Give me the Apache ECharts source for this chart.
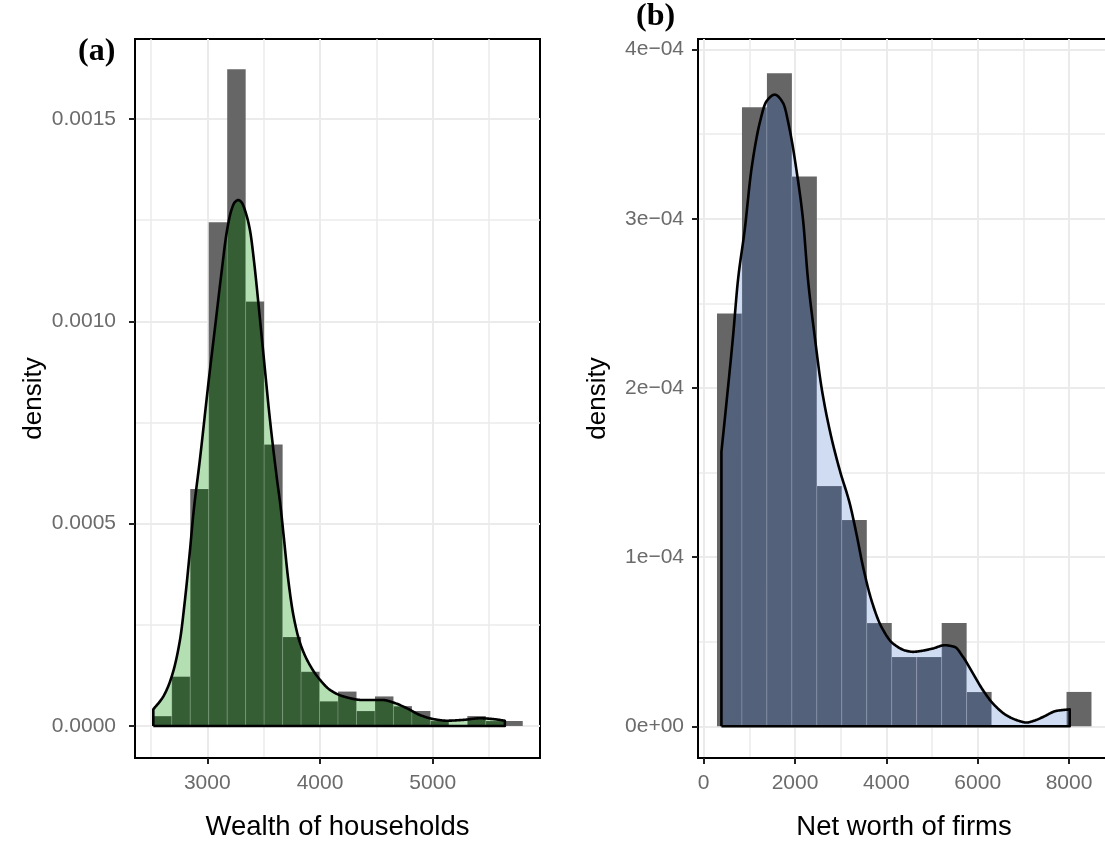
<!DOCTYPE html>
<html>
<head>
<meta charset="utf-8">
<script src="https://cdn.jsdelivr.net/npm/echarts@6/dist/echarts.min.js"></script>
<style>
  html, body { margin: 0; padding: 0; background: #ffffff; }
  #chart { width: 1105px; height: 841px; }
</style>
</head>
<body>
<div id="chart"></div>
<script>
// ---------- (a) Wealth of households ----------
const wealthBinStart = 2521;
const wealthBinWidth = 163.9;
const wealthBinDensity = [
  2.44e-5, 1.22e-4, 5.86e-4, 1.245e-3, 1.623e-3, 1.049e-3, 6.96e-4, 2.20e-4,
  1.34e-4, 6.1e-5, 8.5e-5, 3.7e-5, 7.3e-5, 4.9e-5, 3.7e-5, 1.22e-5, 0,
  2.44e-5, 1.22e-5, 1.22e-5
];
const wealthDensityCurve = [
  [2521, 4.1e-5], [2610, 7.3e-5], [2684, 1.22e-4], [2758, 2.13e-4],
  [2802, 3.12e-4], [2847, 4.36e-4], [2877, 5.26e-4], [2935, 6.60e-4],
  [3009, 8.45e-4], [3077, 1.005e-3], [3128, 1.125e-3], [3172, 1.220e-3],
  [3216, 1.277e-3], [3245, 1.295e-3], [3275, 1.300e-3], [3305, 1.294e-3],
  [3335, 1.274e-3], [3379, 1.225e-3], [3414, 1.150e-3], [3453, 1.046e-3],
  [3497, 9.22e-4], [3556, 7.57e-4], [3615, 6.17e-4], [3651, 5.40e-4],
  [3675, 4.77e-4], [3719, 3.60e-4], [3763, 2.75e-4], [3823, 2.05e-4],
  [3911, 1.50e-4], [4000, 1.14e-4], [4089, 8.9e-5], [4207, 7.3e-5],
  [4384, 6.4e-5], [4562, 6.4e-5], [4650, 5.8e-5], [4769, 4.4e-5],
  [4887, 2.7e-5], [5006, 1.7e-5], [5124, 1.3e-5], [5272, 1.5e-5],
  [5420, 1.9e-5], [5538, 1.7e-5], [5640, 1.3e-5]
];
const wealthXTicks = [3000, 4000, 5000];
const wealthXTickLabels = ['3000', '4000', '5000'];
const wealthXMinor = [2500, 3500, 4500, 5500];
const wealthYTicks = [0, 0.0005, 0.0010, 0.0015];
const wealthYTickLabels = ['0.0000', '0.0005', '0.0010', '0.0015'];
const wealthYMinor = [0.00025, 0.00075, 0.00125];

// ---------- (b) Net worth of firms ----------
const firmBinStart = 291;
const firmBinWidth = 546.7;
const firmBinDensity = [
  2.44e-4, 3.66e-4, 3.86e-4, 3.25e-4, 1.42e-4, 1.22e-4, 6.1e-5, 4.1e-5,
  4.1e-5, 6.1e-5, 2.03e-5, 0, 0, 0, 2.03e-5
];
const firmDensityCurve = [
  [388, 1.623e-4], [497, 1.909e-4], [642, 2.304e-4], [751, 2.639e-4],
  [898, 2.935e-4], [1044, 3.29e-4], [1226, 3.566e-4], [1373, 3.694e-4],
  [1555, 3.734e-4], [1737, 3.685e-4], [1883, 3.527e-4], [2030, 3.29e-4],
  [2175, 2.994e-4], [2284, 2.639e-4], [2431, 2.304e-4], [2577, 2.008e-4],
  [2759, 1.751e-4], [2978, 1.515e-4], [3197, 1.318e-4], [3343, 1.14e-4],
  [3489, 9.43e-5], [3672, 7.46e-5], [3891, 5.88e-5], [4146, 4.89e-5],
  [4438, 4.46e-5], [4584, 4.40e-5], [4730, 4.44e-5], [5022, 4.60e-5],
  [5277, 4.79e-5], [5496, 4.69e-5], [5678, 4.10e-5], [5897, 3.12e-5],
  [6116, 2.13e-5], [6335, 1.34e-5], [6628, 6.5e-6], [6900, 3.2e-6],
  [7067, 2.2e-6], [7250, 3.4e-6], [7431, 5.5e-6], [7723, 9.1e-6],
  [8015, 1.0e-5]
];
const firmXTicks = [0, 2000, 4000, 6000, 8000];
const firmXTickLabels = ['0', '2000', '4000', '6000', '8000'];
const firmXMinor = [1000, 3000, 5000, 7000];
const firmYTicks = [0, 1e-4, 2e-4, 3e-4, 4e-4];
const firmYTickLabels = ['0e+00', '1e\u221204', '2e\u221204', '3e\u221204', '4e\u221204'];
const firmYMinor = [5e-5, 1.5e-4, 2.5e-4, 3.5e-4];

// ---------- styling ----------
const GRID_COLOR = '#ebebeb';
const TICK_TEXT = '#6b6b6b';
const SANS = 'Liberation Sans, Arial, Helvetica, sans-serif';
const SERIF = 'Liberation Serif, Times New Roman, serif';
const BAR_GREY = '#666666';

// Monotone cubic (Fritsch-Carlson) curve through the density estimates,
// so outline, fill and overlap all follow the same smooth shape.
function makeSmooth(curve) {
  const n = curve.length;
  const xs = curve.map(p => p[0]), ys = curve.map(p => p[1]);
  const d = [], m = new Array(n);
  for (let i = 0; i < n - 1; i++) d.push((ys[i + 1] - ys[i]) / (xs[i + 1] - xs[i]));
  m[0] = d[0]; m[n - 1] = d[n - 2];
  for (let i = 1; i < n - 1; i++) {
    if (d[i - 1] * d[i] <= 0) m[i] = 0;
    else {
      const w1 = 2 * (xs[i + 1] - xs[i]) + (xs[i] - xs[i - 1]);
      const w2 = (xs[i + 1] - xs[i]) + 2 * (xs[i] - xs[i - 1]);
      m[i] = (w1 + w2) / (w1 / d[i - 1] + w2 / d[i]);
    }
  }
  const f = x => {
    if (x <= xs[0]) return ys[0];
    if (x >= xs[n - 1]) return ys[n - 1];
    let i = 0;
    while (x > xs[i + 1]) i++;
    const h = xs[i + 1] - xs[i], t = (x - xs[i]) / h;
    const t2 = t * t, t3 = t2 * t;
    return (2 * t3 - 3 * t2 + 1) * ys[i] + (t3 - 2 * t2 + t) * h * m[i]
      + (-2 * t3 + 3 * t2) * ys[i + 1] + (t3 - t2) * h * m[i + 1];
  };
  f.lo = xs[0]; f.hi = xs[n - 1];
  return f;
}

function tracePoints(f, lo, hi, steps, cap) {
  const pts = [];
  for (let k = 0; k <= steps; k++) {
    const x = lo + (hi - lo) * k / steps;
    pts.push([x, cap === undefined ? f(x) : Math.min(cap, f(x))]);
  }
  return pts;
}

function binItems(start, width, dens) {
  return dens.map((d, i) => [start + i * width, start + (i + 1) * width, d]);
}

function labelFor(ticks, labels) {
  return v => {
    const i = ticks.findIndex(t => Math.abs(t - v) <= Math.abs(t) * 1e-9 + 1e-12);
    return i >= 0 ? labels[i] : '';
  };
}

function mainXAxis(gridIndex, min, max, ticks, labels, name) {
  return {
    gridIndex, type: 'value', min, max, position: 'bottom',
    axisLine: { show: true, onZero: false, lineStyle: { color: '#000', width: 2 } },
    axisTick: { show: true, customValues: ticks, length: 6, lineStyle: { color: '#222', width: 2 } },
    axisLabel: { customValues: ticks, formatter: labelFor(ticks, labels), margin: 15,
      color: TICK_TEXT, fontSize: 21, fontFamily: SANS },
    splitLine: { show: true, lineStyle: { color: GRID_COLOR, width: 2 } },
    name, nameLocation: 'middle', nameGap: 55, nameMoveOverlap: false,
    nameTextStyle: { color: '#000', fontSize: 27.5, fontFamily: SANS }
  };
}
function minorXAxis(gridIndex, min, max, ticks) {
  return {
    gridIndex, type: 'value', min, max, position: 'bottom',
    axisLine: { show: false }, axisLabel: { show: false },
    axisTick: { show: false, customValues: ticks },
    splitLine: { show: true, lineStyle: { color: GRID_COLOR, width: 1.5 } }
  };
}
function mainYAxis(gridIndex, min, max, ticks, labels, nameGap, labelMargin) {
  return {
    gridIndex, type: 'value', min, max, position: 'left',
    axisLine: { show: true, onZero: false, lineStyle: { color: '#000', width: 2 } },
    axisTick: { show: true, customValues: ticks, length: 6, lineStyle: { color: '#222', width: 2 } },
    axisLabel: { customValues: ticks, formatter: labelFor(ticks, labels), margin: labelMargin,
      color: TICK_TEXT, fontSize: 21, fontFamily: SANS },
    splitLine: { show: true, lineStyle: { color: GRID_COLOR, width: 2 } },
    name: 'density', nameLocation: 'middle', nameGap, nameMoveOverlap: false,
    nameTextStyle: { color: '#000', fontSize: 26, fontFamily: SANS }
  };
}
function minorYAxis(gridIndex, min, max, ticks) {
  return {
    gridIndex, type: 'value', min, max, position: 'left',
    axisLine: { show: false }, axisLabel: { show: false },
    axisTick: { show: false, customValues: ticks },
    splitLine: { show: true, lineStyle: { color: GRID_COLOR, width: 1.5 } }
  };
}

// histogram bars
function barSeries(xi, yi, items, color) {
  return {
    type: 'custom', xAxisIndex: xi, yAxisIndex: yi, silent: true, animation: false,
    data: items,
    renderItem(params, api) {
      if (api.value(2) <= 0) return null;
      const p0 = api.coord([api.value(0), 0]);
      const p1 = api.coord([api.value(1), api.value(2)]);
      return { type: 'rect',
        shape: { x: p0[0], y: p1[1], width: p1[0] - p0[0], height: p0[1] - p1[1] },
        style: { fill: color } };
    }
  };
}

// density area (filled polygon down to zero)
function densityFillSeries(xi, yi, f, color) {
  return {
    type: 'custom', xAxisIndex: xi, yAxisIndex: yi, silent: true, animation: false,
    data: [[f.lo, 0]],
    renderItem(params, api) {
      const pts = [api.coord([f.lo, 0])];
      tracePoints(f, f.lo, f.hi, 600).forEach(p => pts.push(api.coord(p)));
      pts.push(api.coord([f.hi, 0]));
      return { type: 'polygon', shape: { points: pts }, style: { fill: color } };
    }
  };
}

// part of each bar lying under the density curve
function overlapSeries(xi, yi, items, f, color) {
  return {
    type: 'custom', xAxisIndex: xi, yAxisIndex: yi, silent: true, animation: false,
    data: items,
    renderItem(params, api) {
      const a = api.value(0), b = api.value(1), h = api.value(2);
      const lo = Math.max(a, f.lo), hi = Math.min(b, f.hi);
      if (hi <= lo || h <= 0) return null;
      const pts = [api.coord([lo, 0])];
      tracePoints(f, lo, hi, 60, h).forEach(p => pts.push(api.coord(p)));
      pts.push(api.coord([hi, 0]));
      return { type: 'polygon', shape: { points: pts },
        style: { fill: color, stroke: 'rgba(255,255,255,0.16)', lineWidth: 1 } };
    }
  };
}

// density outline, closed along the baseline
function densityLineSeries(xi, yi, f) {
  return {
    type: 'custom', xAxisIndex: xi, yAxisIndex: yi, silent: true, animation: false,
    data: [[f.lo, 0]],
    renderItem(params, api) {
      const pts = [api.coord([f.lo, 0])];
      tracePoints(f, f.lo, f.hi, 600).forEach(p => pts.push(api.coord(p)));
      pts.push(api.coord([f.hi, 0]));
      pts.push(api.coord([f.lo, 0]));
      return { type: 'polyline', shape: { points: pts },
        style: { fill: null, stroke: '#000', lineWidth: 2.6, lineJoin: 'round' } };
    }
  };
}

const wealthItems = binItems(wealthBinStart, wealthBinWidth, wealthBinDensity);
const firmItems = binItems(firmBinStart, firmBinWidth, firmBinDensity);
const wealthSmooth = makeSmooth(wealthDensityCurve);
const firmSmooth = makeSmooth(firmDensityCurve);

const chart = echarts.init(document.getElementById('chart'), null, { renderer: 'canvas' });
chart.setOption({
  backgroundColor: '#ffffff',
  animation: false,
  title: [
    { text: '(a)', left: 78, top: 36, padding: 0,
      textStyle: { fontFamily: SERIF, fontWeight: 'bold', fontSize: 32, color: '#000' } },
    { text: '(b)', left: 636, top: 1, padding: 0,
      textStyle: { fontFamily: SERIF, fontWeight: 'bold', fontSize: 32, color: '#000' } }
  ],
  grid: [
    { left: 135, top: 39, width: 405, height: 719, show: true, borderColor: '#000', borderWidth: 2,
      backgroundColor: 'transparent', containLabel: false, outerBoundsMode: 'none' },
    { left: 698, top: 39, width: 412, height: 719, show: true, borderColor: '#000', borderWidth: 2,
      backgroundColor: 'transparent', containLabel: false, outerBoundsMode: 'none' }
  ],
  xAxis: [
    mainXAxis(0, 2358.5, 5952, wealthXTicks, wealthXTickLabels, 'Wealth of households'),
    minorXAxis(0, 2358.5, 5952, wealthXMinor),
    mainXAxis(1, -125, 8897, firmXTicks, firmXTickLabels, 'Net worth of firms'),
    minorXAxis(1, -125, 8897, firmXMinor)
  ],
  yAxis: [
    mainYAxis(0, -7.92e-5, 1.698e-3, wealthYTicks, wealthYTickLabels, 88, 19),
    minorYAxis(0, -7.92e-5, 1.698e-3, wealthYMinor),
    mainYAxis(1, -1.876e-5, 4.063e-4, firmYTicks, firmYTickLabels, 87, 14),
    minorYAxis(1, -1.876e-5, 4.063e-4, firmYMinor)
  ],
  series: [
    barSeries(0, 0, wealthItems, BAR_GREY),
    densityFillSeries(0, 0, wealthSmooth, '#b3dfb2'),
    overlapSeries(0, 0, wealthItems, wealthSmooth, '#355e35'),
    densityLineSeries(0, 0, wealthSmooth),
    barSeries(2, 2, firmItems, BAR_GREY),
    densityFillSeries(2, 2, firmSmooth, '#cfdcf2'),
    overlapSeries(2, 2, firmItems, firmSmooth, '#53617b'),
    densityLineSeries(2, 2, firmSmooth)
  ]
});
</script>
</body>
</html>
